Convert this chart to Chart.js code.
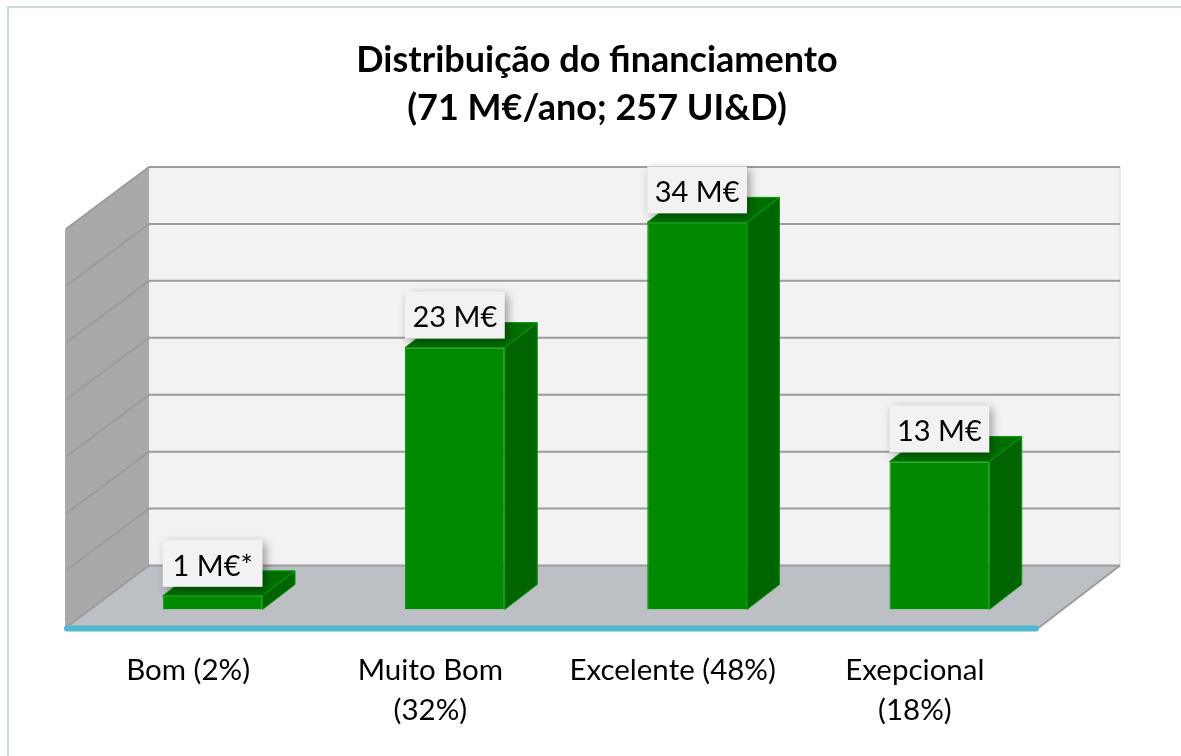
<!DOCTYPE html>
<html><head><meta charset="utf-8">
<style>html,body{margin:0;padding:0;background:#fff}#w{position:relative;width:1181px;height:756px}</style>
<script src="https://cdn.jsdelivr.net/npm/chart.js@4"></script>
</head><body><div id="w"><canvas id="c" width="1181" height="756"></canvas></div>
<script>
const categories = ["Bom (2%)", ["Muito Bom", "(32%)"], "Excelente (48%)", ["Exepcional", "(18%)"]];
const funding = [1.2, 23, 34, 13];
const valueLabels = ["1 M€*", "23 M€", "34 M€", "13 M€"];
const titleLines = ["Distribuição do financiamento", "(71 M€/ano; 257 UI&D)"];
const FONT = "Lato, Carlito, 'Open Sans', sans-serif";

const scene3d = {
  id: 'scene3d',
  afterLayout(chart) {
    const t = chart.titleBlock;
    if (t) { t.left += 21; t.right += 21; }
  },
  beforeDraw(chart) {
    const c = chart.ctx;
    c.save();
    c.fillStyle = '#c2e0da';
    c.fillRect(7, 6, 1174, 2);
    c.fillRect(7, 6, 2, 750);
    c.restore();
  },
  beforeDatasetsDraw(chart) {
    const c = chart.ctx, a = chart.chartArea, y = chart.scales.y;
    const L = a.left, R = a.right;
    const y0 = y.getPixelForValue(0), yTop = y.getPixelForValue(y.max);
    const fl = L - 25.5, bl = L + 57.5, fr = R - 21.5, br = R + 59.5;
    const up = -44, down = 18;
    const poly = (pts, fill, stroke, lw) => {
      c.beginPath();
      pts.forEach((p, i) => i ? c.lineTo(p[0], p[1]) : c.moveTo(p[0], p[1]));
      c.closePath();
      if (fill) { c.fillStyle = fill; c.fill(); }
      if (stroke) { c.strokeStyle = stroke; c.lineWidth = lw || 1; c.stroke(); }
    };
    c.save();
    poly([[bl, yTop + up], [br, yTop + up], [br, y0 + up], [bl, y0 + up]], '#f2f2f2');
    poly([[fl, yTop + down], [bl, yTop + up], [bl, y0 + up], [fl, y0 + down]], '#a9a9a9');
    poly([[fl, y0 + down], [bl, y0 + up], [br, y0 + up], [fr, y0 + down]], '#bcbfc4');
    c.strokeStyle = '#e0e0e0'; c.lineWidth = 1.5;
    c.beginPath(); c.moveTo(br, yTop + up); c.lineTo(br, y0 + up); c.stroke();
    c.strokeStyle = '#9c9c9c'; c.lineWidth = 2;
    y.ticks.forEach(t => {
      const p = y.getPixelForValue(t.value);
      c.beginPath();
      c.moveTo(fl, p + down); c.lineTo(bl, p + up); c.lineTo(br, p + up);
      c.stroke();
    });
    c.beginPath(); c.moveTo(fr, y0 + down); c.lineTo(br, y0 + up); c.stroke();
    c.beginPath(); c.moveTo(fl, yTop + down); c.lineTo(fl, y0 + down); c.strokeStyle = '#a9a9a9'; c.stroke();
    c.strokeStyle = '#50b7d0'; c.lineWidth = 6; c.lineCap = 'round';
    c.beginPath(); c.moveTo(fl + 1, y0 + down + 1); c.lineTo(fr - 3, y0 + down + 1); c.stroke();
    c.restore();
  },
  afterDatasetsDraw(chart) {
    const c = chart.ctx, meta = chart.getDatasetMeta(0);
    const dx = 32.5, dy = 25;
    c.save();
    meta.data.forEach(b => {
      const l = b.x - b.width / 2, r = b.x + b.width / 2, t = b.y, bt = b.base;
      c.lineWidth = 1; c.strokeStyle = '#079a07';
      c.beginPath(); c.moveTo(r, t); c.lineTo(r + dx, t - dy); c.lineTo(r + dx, bt - dy); c.lineTo(r, bt); c.closePath();
      c.fillStyle = '#006400'; c.fill(); c.stroke();
      c.beginPath(); c.moveTo(l, t); c.lineTo(l + dx, t - dy); c.lineTo(r + dx, t - dy); c.lineTo(r, t); c.closePath();
      c.fillStyle = '#006f00'; c.fill(); c.stroke();
    });
    meta.data.forEach((b, i) => {
      const w = b.width, h = 47, top = b.y - 9 - h;
      c.save();
      c.shadowColor = 'rgba(0,0,0,0.4)'; c.shadowBlur = 9; c.shadowOffsetX = 3; c.shadowOffsetY = 3;
      c.fillStyle = '#f2f2f2';
      c.fillRect(b.x - w / 2, top, w, h);
      c.restore();
      c.fillStyle = '#000';
      c.font = '29px ' + FONT;
      c.textAlign = 'center'; c.textBaseline = 'middle';
      c.fillText(valueLabels[i], b.x, top + h / 2 + 3);
    });
    c.restore();
  }
};

new Chart(document.getElementById('c'), {
  type: 'bar',
  plugins: [scene3d],
  data: {
    labels: categories,
    datasets: [{
      data: funding,
      backgroundColor: '#008a00',
      borderColor: '#079a07',
      borderWidth: 1,
      barPercentage: 0.412,
      categoryPercentage: 1
    }]
  },
  options: {
    responsive: false,
    animation: false,
    layout: { padding: { left: 91.5, right: 120.5, top: 0, bottom: 0 } },
    plugins: {
      legend: { display: false },
      tooltip: { enabled: false },
      title: {
        display: true,
        text: titleLines,
        color: '#000',
        font: { family: FONT, size: 36, weight: 'bold', lineHeight: 1.333 },
        padding: { top: 36, bottom: 79 }
      }
    },
    scales: {
      x: {
        grid: { display: false, drawTicks: false },
        border: { display: false },
        afterFit(s) { s.height = 146.5; },
        ticks: {
          color: '#000', padding: 41.5, labelOffset: -24.5,
          autoSkip: false, maxRotation: 0, minRotation: 0,
          font: { family: FONT, size: 29.5, lineHeight: 1.34 }
        }
      },
      y: {
        display: true, min: 0, max: 35,
        afterFit(s) { s.width = 0; },
        grid: { display: false, drawTicks: false },
        border: { display: false },
        ticks: { display: false, stepSize: 5 }
      }
    }
  }
});
</script></body></html>
